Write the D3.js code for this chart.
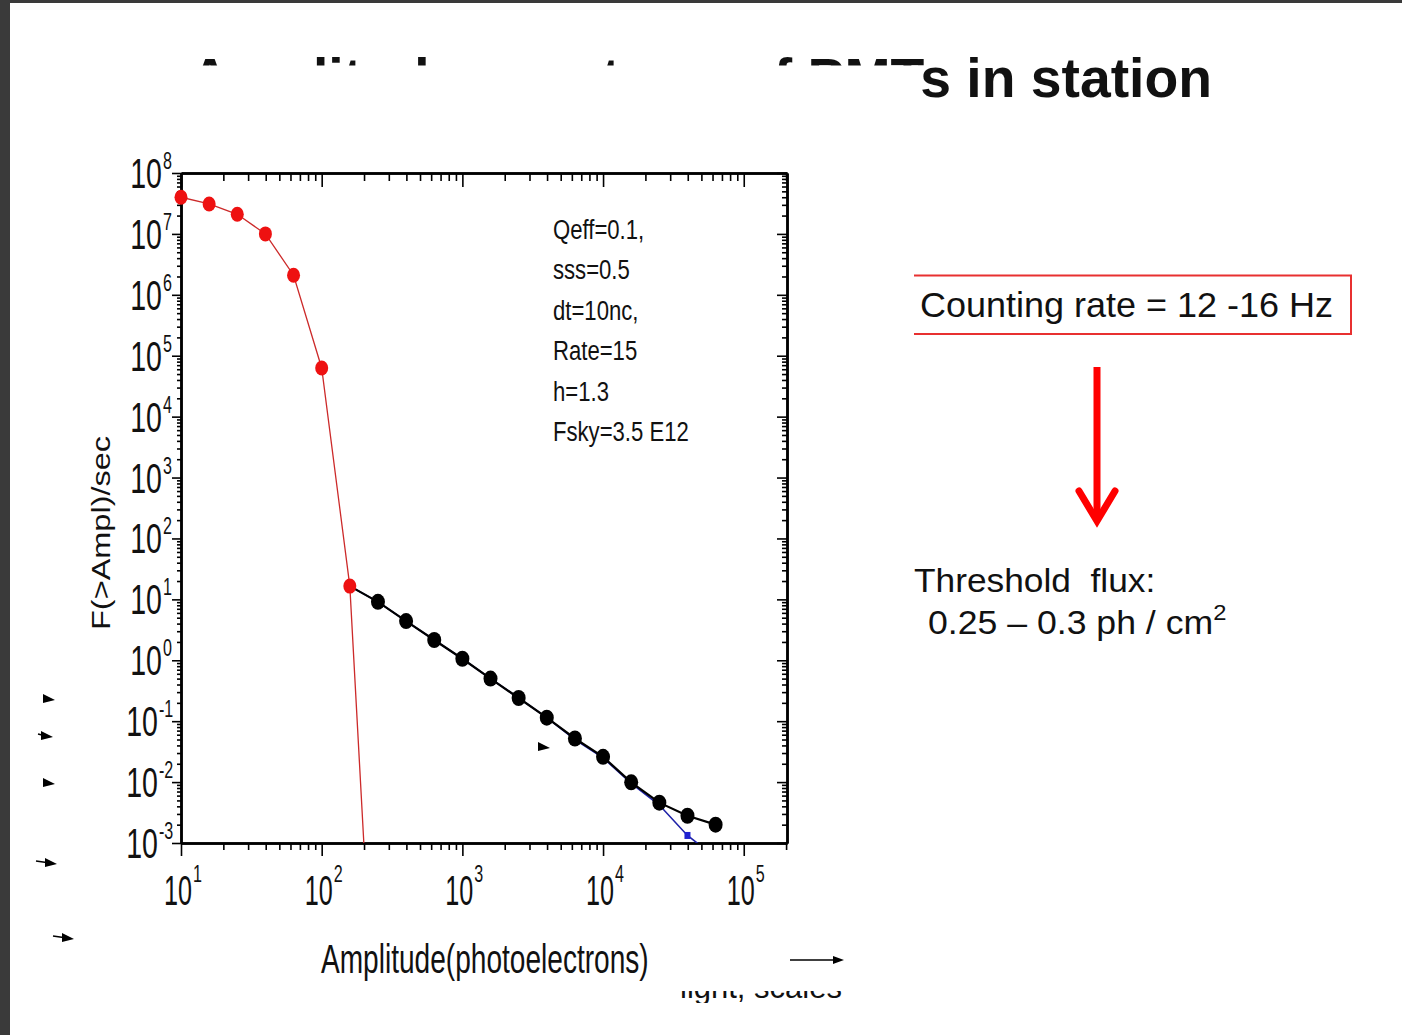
<!DOCTYPE html>
<html>
<head>
<meta charset="utf-8">
<script src="https://cdn.jsdelivr.net/npm/d3@7"></script>
<style>
  body { margin: 0; background: #fff; }
  text { font-family: "Liberation Sans", Arial, sans-serif; fill: #111; }
</style>
</head>
<body>
<div class="chart"></div>
<script>
// Amplitude spectrum of PMTs - integral rate vs amplitude
// red: night sky background, black: total, blue: showers only
var redX = [10, 15.85, 25.12, 39.81, 63.1, 100, 158.5, 251.2];
var redY = [4.0e7, 3.1e7, 2.1e7, 1.0e7, 2.1e6, 6.3e4, 16.5, 5.6e-8];

var blackX = [158.5, 251.2, 398.1, 631, 1000, 1585, 2512, 3981, 6310, 10000, 15849, 25119, 39811, 63096];
var blackY = [16.5, 9.1, 4.4, 2.15, 1.06, 0.50, 0.24, 0.114, 0.052, 0.026, 0.0099, 0.0046, 0.0028, 0.0020];
var blueY  = [16.5, 9.1, 4.4, 2.15, 1.06, 0.50, 0.24, 0.114, 0.050, 0.025, 0.0095, 0.0042, 0.00133, 0.00058];

var xDecades = [1, 2, 3, 4, 5];
var yDecades = [-3, -2, -1, 0, 1, 2, 3, 4, 5, 6, 7, 8];

var params = ["Qeff=0.1,", "sss=0.5", "dt=10nc,", "Rate=15", "h=1.3", "Fsky=3.5 E12"];
var titleText = "Amplitude spectrum of PMTs in station";

var svgWidth = 1402;
var svgHeight = 1035;
var plot = { left: 181, right: 787, top: 173, bottom: 843 };

var svg = d3.select(".chart").append("svg")
    .attr("width", svgWidth)
    .attr("height", svgHeight);

svg.append("rect").attr("width", svgWidth).attr("height", svgHeight).attr("fill", "#fff");
// dark frame of the screenshot
svg.append("rect").attr("x", 0).attr("y", 0).attr("width", svgWidth).attr("height", 3).attr("fill", "#3a3a3a");
svg.append("rect").attr("x", 0).attr("y", 0).attr("width", 10).attr("height", svgHeight).attr("fill", "#3a3a3a");

// title, lower part of the left half hidden behind a white box (as on the slide)
svg.append("text")
    .attr("x", 190).attr("y", 97)
    .attr("font-size", 55.3).attr("font-weight", "bold")
    .text(titleText);
svg.append("rect").attr("x", 184).attr("y", 65.5).attr("width", 734).attr("height", 50).attr("fill", "#fff");

// scales
var xScale = d3.scaleLog().domain([10, 2.03e5]).range([plot.left, plot.right]);
var yScale = d3.scaleLog().domain([1e-3, 1e8]).range([plot.bottom, plot.top]);

var xMajor = xDecades.map(d => Math.pow(10, d));
var yMajor = yDecades.map(d => Math.pow(10, d));
var xMinor = [], yMinor = [];
xDecades.forEach(function (d) {
    for (var m = 2; m <= 9; m++) {
        var v = m * Math.pow(10, d);
        if (v < xScale.domain()[1]) xMinor.push(v);
    }
});
yDecades.slice(0, -1).forEach(function (d) {
    for (var m = 2; m <= 9; m++) yMinor.push(m * Math.pow(10, d));
});

function drawAxis(axis, transform) {
    var g = svg.append("g").attr("transform", transform).call(axis);
    g.selectAll("path").attr("stroke", "#000").attr("stroke-width", 2.5);
    g.selectAll("line").attr("stroke", "#000").attr("stroke-width", 1.6);
    g.selectAll("text").remove();
    return g;
}

// bottom (outward), top (inward)
drawAxis(d3.axisBottom(xScale).tickValues(xMajor).tickSize(13).tickSizeOuter(0).tickFormat(""), `translate(0, ${plot.bottom})`);
drawAxis(d3.axisBottom(xScale).tickValues(xMinor).tickSize(7).tickSizeOuter(0).tickFormat(""), `translate(0, ${plot.bottom})`);
drawAxis(d3.axisBottom(xScale).tickValues(xMajor).tickSize(14).tickSizeOuter(0).tickFormat(""), `translate(0, ${plot.top})`);
drawAxis(d3.axisBottom(xScale).tickValues(xMinor).tickSize(8).tickSizeOuter(0).tickFormat(""), `translate(0, ${plot.top})`);
// left (outward), right (inward)
drawAxis(d3.axisLeft(yScale).tickValues(yMajor).tickSize(9).tickSizeOuter(0).tickFormat(""), `translate(${plot.left}, 0)`);
drawAxis(d3.axisLeft(yScale).tickValues(yMinor).tickSize(4).tickSizeOuter(0).tickFormat(""), `translate(${plot.left}, 0)`);
drawAxis(d3.axisLeft(yScale).tickValues(yMajor).tickSize(10).tickSizeOuter(0).tickFormat(""), `translate(${plot.right}, 0)`);
drawAxis(d3.axisLeft(yScale).tickValues(yMinor).tickSize(5).tickSizeOuter(0).tickFormat(""), `translate(${plot.right}, 0)`);

// narrow text helper (the figure uses a condensed font)
function narrowText(parent, x, y, str, size, sx, anchor) {
    return parent.append("text")
        .attr("transform", `translate(${x}, ${y}) scale(${sx}, 1)`)
        .attr("font-size", size)
        .attr("text-anchor", anchor || "start")
        .text(str);
}

// tick labels 10^n
var labels = svg.append("g");
xDecades.forEach(function (d) {
    var x = xScale(Math.pow(10, d));
    narrowText(labels, x + 11, 905, "10", 42, 0.6, "end");
    narrowText(labels, x + 12, 882, String(d), 23, 0.7, "start");
});
yDecades.forEach(function (d) {
    var y = yScale(Math.pow(10, d));
    var split = d < 0 ? 158 : 162;
    narrowText(labels, split, y + 15, "10", 42, 0.68, "end");
    narrowText(labels, split + 1, y - 4, d < 0 ? "-" + Math.abs(d) : String(d), 23, 0.7, "start");
});

// axis titles
narrowText(svg, 321, 973, "Amplitude(photoelectrons)", 41, 0.685, "start");
svg.append("text")
    .attr("transform", "translate(110, 630) rotate(-90) scale(1.3, 1)")
    .attr("font-size", 25)
    .text("F(>Ampl)/sec");

// parameters box text
params.forEach(function (p, i) {
    narrowText(svg, 553, 239 + i * 40.4, p, 28, 0.79, "start");
});

// clip for lines
svg.append("clipPath").attr("id", "plotClip")
    .append("rect")
    .attr("x", plot.left).attr("y", plot.top)
    .attr("width", plot.right - plot.left).attr("height", plot.bottom - plot.top);

var line = d3.line()
    .x(d => xScale(d[0]))
    .y(d => yScale(d[1]));

var redData = redX.map((x, i) => [x, redY[i]]);
var blackData = blackX.map((x, i) => [x, blackY[i]]);
var blueData = blackX.map((x, i) => [x, blueY[i]]);
var inside = d => d[1] >= yScale.domain()[0] && d[1] <= yScale.domain()[1];

var lines = svg.append("g").attr("clip-path", "url(#plotClip)");
lines.append("path").datum(blueData).attr("d", line)
    .attr("fill", "none").attr("stroke", "#1f22a8").attr("stroke-width", 1.6);
lines.append("path").datum(blackData).attr("d", line)
    .attr("fill", "none").attr("stroke", "#000").attr("stroke-width", 2.2);
lines.append("path").datum(redData).attr("d", line)
    .attr("fill", "none").attr("stroke", "#cc2a2a").attr("stroke-width", 1.3);

// markers
svg.append("g").selectAll("rect")
    .data(blueData.filter(inside))
    .enter().append("rect")
    .attr("x", d => xScale(d[0]) - 3).attr("y", d => yScale(d[1]) - 3.5)
    .attr("width", 6).attr("height", 7)
    .attr("fill", "#1f22d0");

svg.append("g").selectAll("ellipse")
    .data(blackData.slice(1).filter(inside))
    .enter().append("ellipse")
    .attr("cx", d => xScale(d[0])).attr("cy", d => yScale(d[1]))
    .attr("rx", 7).attr("ry", 8)
    .attr("fill", "#000");

svg.append("g").selectAll("ellipse")
    .data(redData.filter(inside))
    .enter().append("ellipse")
    .attr("cx", d => xScale(d[0])).attr("cy", d => yScale(d[1]))
    .attr("rx", 6.5).attr("ry", 7.5)
    .attr("fill", "#ee1111");

// right-hand annotations
svg.append("path")
    .attr("d", "M914,275.5 H1351 V334 H914")
    .attr("fill", "none").attr("stroke", "#e83030").attr("stroke-width", 2);
svg.append("text")
    .attr("x", 920).attr("y", 317)
    .attr("font-size", 35)
    .attr("textLength", 413).attr("lengthAdjust", "spacingAndGlyphs")
    .text("Counting rate = 12 -16 Hz");

svg.append("line")
    .attr("x1", 1097).attr("y1", 367).attr("x2", 1097).attr("y2", 521)
    .attr("stroke", "#ff0000").attr("stroke-width", 7);
svg.append("path")
    .attr("d", "M1079,491 L1097,521 L1115,491")
    .attr("fill", "none").attr("stroke", "#ff0000").attr("stroke-width", 7)
    .attr("stroke-linecap", "round").attr("stroke-linejoin", "miter");

svg.append("text")
    .attr("transform", "translate(914, 592) scale(1.07, 1)")
    .attr("font-size", 33)
    .attr("xml:space", "preserve")
    .style("white-space", "pre")
    .text("Threshold  flux:");
var flux = svg.append("text")
    .attr("transform", "translate(928, 634) scale(1.08, 1)")
    .attr("font-size", 33);
flux.append("tspan").text("0.25 \u2013 0.3 ph / cm");
flux.append("tspan").attr("font-size", 22).attr("dy", -14).text("2");

// stray slide-animation arrowheads
var strayArrows = [[48, 699, 0], [46, 736, 4], [48, 783, 0], [50, 863, 10], [67, 938, 10], [543, 747, 0]];
strayArrows.forEach(function (a) {
    var x = a[0], y = a[1];
    if (a[2] > 0) {
        svg.append("line").attr("x1", x - a[2] - 4).attr("y1", y - 2).attr("x2", x).attr("y2", y)
            .attr("stroke", "#000").attr("stroke-width", 1.5);
    }
    svg.append("path")
        .attr("d", `M${x - 5},${y - 5} L${x + 7},${y + 1} L${x - 5},${y + 4} Z`)
        .attr("fill", "#000");
});

// long arrow bottom right
svg.append("line").attr("x1", 790).attr("y1", 960).attr("x2", 834).attr("y2", 960)
    .attr("stroke", "#000").attr("stroke-width", 1.5);
svg.append("path").attr("d", "M833,956 L844,960 L833,964 Z").attr("fill", "#000");

// partially hidden text line at bottom
svg.append("clipPath").attr("id", "bandClip")
    .append("rect").attr("x", 670).attr("y", 991).attr("width", 180).attr("height", 12);
svg.append("text")
    .attr("clip-path", "url(#bandClip)")
    .attr("x", 680).attr("y", 998)
    .attr("font-size", 31)
    .text("light, scales");
</script>
</body>
</html>
